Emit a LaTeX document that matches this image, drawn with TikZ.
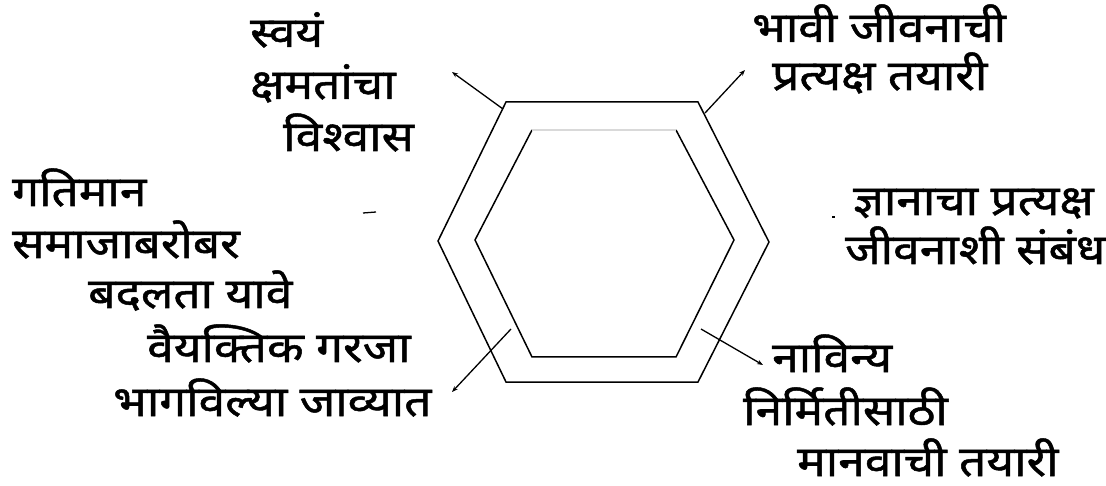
\documentclass[tikz,border=0pt]{standalone}
\usepackage{fontspec}
\newfontfamily\deva[Script=Devanagari,FakeStretch=1.14,FakeBold=1.2]{Noto Sans}
\usetikzlibrary{arrows.meta}
\tikzset{
  lbl/.style={anchor=base west, inner sep=0pt, font=\deva\fontsize{42}{48}\selectfont},
  hexline/.style={line width=1.5pt, black, line join=miter},
  arr/.style={line width=1.3pt, -{Stealth[length=6pt,width=4.5pt]}},
}
\begin{document}
\begin{tikzpicture}[x=1pt,y=-1pt]
\useasboundingbox (0,0) rectangle (1106,486);
% outer hexagon
\draw[hexline] (506,102) -- (698,102) -- (769,242) -- (698,382) -- (506,382) -- (438,241) -- cycle;
% inner hexagon
\draw[hexline] (676,130) -- (734,240) -- (676,357) -- (532,357) -- (475,240) -- (532,130);
\draw[line width=1.5pt, black!15] (532,130) -- (676,130);
% arrow coordinates
\coordinate (tls) at (503,109); \coordinate (tle) at (452,72);
\coordinate (trs) at (705,113); \coordinate (tre) at (745,70);
\coordinate (bls) at (511,329); \coordinate (ble) at (452,392);
\coordinate (brs) at (701,329); \coordinate (bre) at (763,365);
\draw[arr] (tls) -- (tle);
\draw[arr] (trs) -- (tre);
\draw[arr] (bls) -- (ble);
\draw[arr] (brs) -- (bre);
% tiny marks
\coordinate (lm1) at (363,213); \coordinate (lm2) at (376,212);
\draw[line width=1.3pt] (lm1) -- (lm2);
\coordinate (rm1) at (832,217); \coordinate (rm2) at (835,217);
\draw[line width=1.6pt] (rm1) -- (rm2);
% labels
\node[lbl] (a1) at (250,47) {स्वयं};
\node[lbl] (a2) at (250,99) {क्षमतांचा};
\node[lbl] (a3) at (283,151) {विश्वास};
\node[lbl] (b1) at (12,206) {गतिमान};
\node[lbl] (b2) at (12,258) {समाजाबरोबर};
\node[lbl] (b3) at (88,308) {बदलता यावे};
\node[lbl] (c1) at (147,362) {वैयक्तिक गरजा};
\node[lbl] (c2) at (113,416) {भागविल्या जाव्यात};
\node[lbl] (d1) at (752,42) {भावी जीवनाची};
\node[lbl] (d2) at (772,90) {प्रत्यक्ष तयारी};
\node[lbl] (e1) at (853,215) {ज्ञानाचा प्रत्यक्ष};
\node[lbl] (e2) at (845,264) {जीवनाशी संबंध};
\node[lbl] (f1) at (772,372) {नाविन्य};
\node[lbl] (f2) at (743,425) {निर्मितीसाठी};
\node[lbl] (f3) at (797,476) {मानवाची तयारी};
\end{tikzpicture}
\end{document}
